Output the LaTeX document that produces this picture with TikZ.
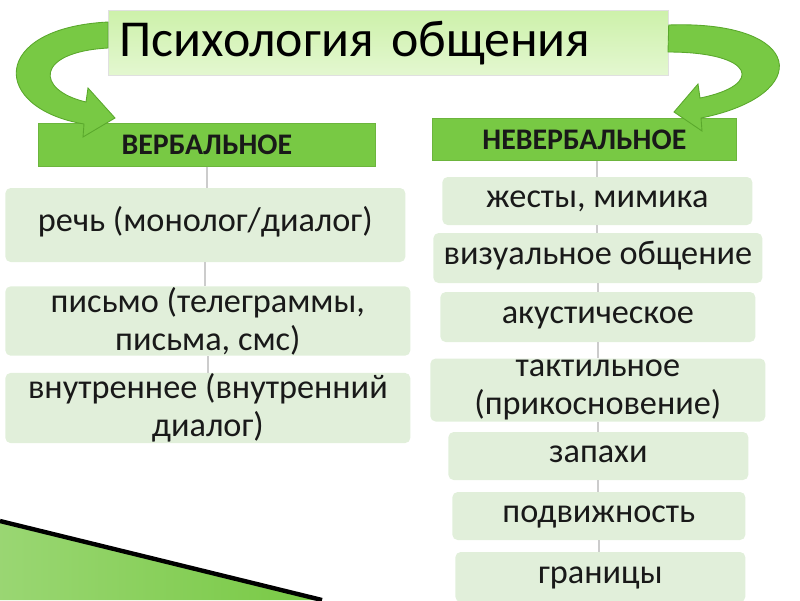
\documentclass[tikz,border=0pt]{standalone}
\usepackage{fontspec}
\setmainfont{Carlito}
\usetikzlibrary{arrows.meta}
\definecolor{leafgreen}{HTML}{78C944}
\definecolor{darkleaf}{HTML}{5AA82C}
\definecolor{paletitle}{HTML}{CDF1AA}
\definecolor{itemfill}{HTML}{E1EFDA}

\begin{document}
\begin{tikzpicture}[x=0.02cm,y=-0.02cm,
    titlebox/.style={draw=black!12,top color=paletitle,bottom color=paletitle!55!white,
        minimum width=560*0.02cm,minimum height=65*0.02cm,anchor=north west,
        font=\fontsize{29.5}{32}\selectfont,text=black,inner xsep=5pt},
    headbox/.style={fill=leafgreen,draw=leafgreen!90!black,anchor=north west,
        font=\bfseries\fontsize{17}{19}\selectfont,text=black!90},
    itembox/.style={fill=itemfill,rounded corners=3pt,anchor=west,align=center,
        inner ysep=0.5pt,font=\fontsize{19.5}{21.5}\selectfont,text=black!90},
    oneline/.style={itembox,text height=0.95em,text depth=0.18em},
    link/.style={draw=black!20,line width=1pt},
    bigarrow/.style={draw=darkleaf,fill=leafgreen,line width=0.5pt}]
  \useasboundingbox (0,0) rectangle (800,600);
  % corner wedge
  \shade[left color=leafgreen!75!white,right color=leafgreen] (0,523) -- (320,600) -- (0,600) -- cycle;
  \draw[black,line width=2.5pt] (0,521) -- (322,600);
  % title
  \node[titlebox,text width=538*0.02cm,align=left] (title) at (108,10) {Психология общения};
  % headers
  \node[headbox,minimum width=337*0.02cm,minimum height=43*0.02cm] (verb) at (38,123) {ВЕРБАЛЬНОЕ};
  \node[headbox,minimum width=304*0.02cm,minimum height=42*0.02cm] (nonverb) at (432,118) {НЕВЕРБАЛЬНОЕ};
  % verbal items
  \node[oneline,minimum width=400*0.02cm,minimum height=74*0.02cm] (v1) at (5,225) {речь (монолог/диалог)};
  \node[itembox,minimum width=405*0.02cm,minimum height=65*0.02cm] (v2) at (5,321) {письмо (телеграммы,\\письма, смс)};
  \node[itembox,minimum width=405*0.02cm,minimum height=60*0.02cm] (v3) at (5,408) {внутреннее (внутренний\\диалог)};
  % nonverbal items
  \node[oneline,minimum width=310*0.02cm,minimum height=48*0.02cm] (n1) at (442,201) {жесты, мимика};
  \node[oneline,minimum width=329*0.02cm,minimum height=50*0.02cm] (n2) at (433,258) {визуальное общение};
  \node[oneline,minimum width=315*0.02cm,minimum height=50*0.02cm] (n3) at (440,317) {акустическое};
  \node[itembox,minimum width=335*0.02cm,minimum height=63*0.02cm] (n4) at (430,390) {тактильное\\(прикосновение)};
  \node[oneline,minimum width=300*0.02cm,minimum height=48*0.02cm] (n5) at (448,456) {запахи};
  \node[oneline,minimum width=293*0.02cm,minimum height=48*0.02cm] (n6) at (452,516) {подвижность};
  \node[oneline,minimum width=290*0.02cm,minimum height=50*0.02cm] (n7) at (455,577) {границы};
  % links
  \draw[link] (verb.south) -- (verb.south |- v1.north);
  \draw[link] (v1.south) -- (v1.south |- v2.north);
  \draw[link] (v2.south) -- (v2.south |- v3.north);
  \draw[link] (n1.north) -- (n1.north |- nonverb.south);
  \foreach \a/\b in {n1/n2,n2/n3,n3/n4,n4/n5,n5/n6,n6/n7}
    \draw[link] (\a.south) -- (\a.south |- \b.north);
  % curved arrows
  \filldraw[bigarrow] (title.north west) ++(0,12)
      .. controls (-10,28) and (-10,108) .. (84,124)
      -- (83,137) -- (115,118) -- (88,88) -- (86,102)
      .. controls (35,90) and (35,52) .. (108,48) -- cycle;
  \filldraw[bigarrow] (title.north east) ++(0,15)
      .. controls (805,20) and (815,95) .. (701,118)
      -- (702,131) -- (674,112) -- (698,84) -- (700,98)
      .. controls (765,85) and (755,52) .. (668,52) -- cycle;
\end{tikzpicture}
\end{document}
